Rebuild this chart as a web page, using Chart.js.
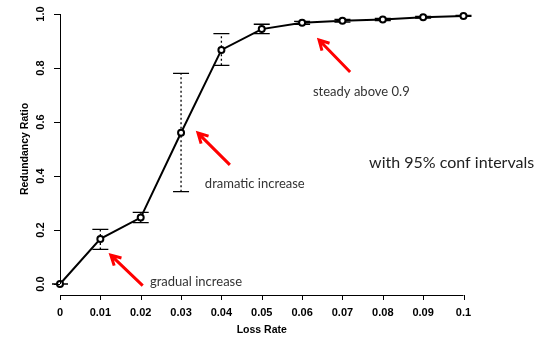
<!DOCTYPE html>
<html>
<head>
<meta charset="utf-8">
<script src="https://cdn.jsdelivr.net/npm/chart.js@4"></script>
<style>
  html, body { margin: 0; padding: 0; background: #fff; }
  #wrap { width: 540px; height: 337px; position: relative; }
</style>
</head>
<body>
<div id="wrap"><canvas id="chart"></canvas></div>
<script>
// loss rate vs redundancy ratio, mean with 95% confidence interval
const lossRate = [0, 0.01, 0.02, 0.03, 0.04, 0.05, 0.06, 0.07, 0.08, 0.09, 0.1];
const ratio    = [0.0, 0.167, 0.246, 0.560, 0.867, 0.944, 0.968, 0.975, 0.980, 0.988, 0.993];
const ciLow    = [0.0, 0.128, 0.227, 0.342, 0.810, 0.927, 0.962, 0.970, 0.976, 0.985, 0.991];
const ciHigh   = [0.0, 0.202, 0.265, 0.780, 0.927, 0.962, 0.973, 0.980, 0.984, 0.991, 0.995];

const xTicks = [0, 0.01, 0.02, 0.03, 0.04, 0.05, 0.06, 0.07, 0.08, 0.09, 0.1];
const xTickLabels = ['0', '0.01', '0.02', '0.03', '0.04', '0.05', '0.06', '0.07', '0.08', '0.09', '0.1'];
const yTicks = [0, 0.2, 0.4, 0.6, 0.8, 1.0];
const yTickLabels = ['0.0', '0.2', '0.4', '0.6', '0.8', '1.0'];

// callouts: arrow from tail to head, text anchored left/middle (data coordinates)
const notes = [
    {text: 'gradual increase', tx: 0.0223, ty: 0.007, tail: [0.0205, -0.006], head: [0.0126, 0.107]},
    {text: 'dramatic increase', tx: 0.0359, ty: 0.370, tail: [0.0421, 0.441], head: [0.0342, 0.559]},
    {text: 'steady above 0.9', tx: 0.0627, ty: 0.711, tail: [0.0719, 0.785], head: [0.0642, 0.904]}
];
const sideNote = {text: 'with 95% conf intervals', tx: 0.0766, ty: 0.448};

const axisFont = 'bold 11px "Liberation Sans", Arial, sans-serif';
const titleFont = 'bold 10.5px "Liberation Sans", Arial, sans-serif';
const noteFont = '"Lato", "Open Sans", sans-serif';

const rStyle = {
    id: 'rStyle',
    beforeDatasetsDraw(chart) {
        const ctx = chart.ctx;
        const xs = chart.scales.x, ys = chart.scales.y;
        ctx.save();
        // error bars: dotted stem, solid caps
        for (let i = 0; i < lossRate.length; i++) {
            const px = xs.getPixelForValue(lossRate[i]);
            const lo = ys.getPixelForValue(ciLow[i]);
            const hi = ys.getPixelForValue(ciHigh[i]);
            ctx.strokeStyle = '#000';
            ctx.lineWidth = 1.3;
            ctx.setLineDash([2, 2.5]);
            ctx.beginPath();
            ctx.moveTo(px, lo);
            ctx.lineTo(px, hi);
            ctx.stroke();
            ctx.setLineDash([]);
            ctx.beginPath();
            ctx.moveTo(px - 8, lo); ctx.lineTo(px + 8, lo);
            ctx.moveTo(px - 8, hi); ctx.lineTo(px + 8, hi);
            ctx.stroke();
        }
        ctx.restore();
    },
    afterDraw(chart) {
        const ctx = chart.ctx;
        const xs = chart.scales.x, ys = chart.scales.y;
        const left = xs.getPixelForValue(xTicks[0]);
        const right = xs.getPixelForValue(xTicks[xTicks.length - 1]);
        const top = ys.getPixelForValue(yTicks[yTicks.length - 1]);
        const bottom = ys.getPixelForValue(yTicks[0]);
        const axisY = bottom + 11;
        const axisX = left;
        ctx.save();
        ctx.strokeStyle = '#000';
        ctx.lineWidth = 1;

        // x axis
        ctx.beginPath();
        ctx.moveTo(left, axisY + 0.5);
        ctx.lineTo(right, axisY + 0.5);
        xTicks.forEach(v => {
            const px = Math.round(xs.getPixelForValue(v)) + 0.5;
            ctx.moveTo(px, axisY);
            ctx.lineTo(px, axisY + 5);
        });
        ctx.stroke();
        ctx.fillStyle = '#000';
        ctx.font = axisFont;
        ctx.textAlign = 'center';
        ctx.textBaseline = 'middle';
        xTicks.forEach((v, i) => {
            ctx.fillText(xTickLabels[i], xs.getPixelForValue(v), axisY + 18);
        });
        ctx.font = titleFont;
        ctx.fillText('Loss Rate', (left + right) / 2, axisY + 35);

        // y axis
        ctx.beginPath();
        ctx.moveTo(axisX + 0.5, top);
        ctx.lineTo(axisX + 0.5, bottom);
        yTicks.forEach(v => {
            const py = Math.round(ys.getPixelForValue(v)) + 0.5;
            ctx.moveTo(axisX, py);
            ctx.lineTo(axisX - 6, py);
        });
        ctx.stroke();
        ctx.font = axisFont;
        yTicks.forEach((v, i) => {
            ctx.save();
            ctx.translate(axisX - 19, ys.getPixelForValue(v));
            ctx.rotate(-Math.PI / 2);
            ctx.fillText(yTickLabels[i], 0, 0);
            ctx.restore();
        });
        ctx.save();
        ctx.font = titleFont;
        ctx.translate(axisX - 35, (top + bottom) / 2);
        ctx.rotate(-Math.PI / 2);
        ctx.fillText('Redundancy Ratio', 0, 0);
        ctx.restore();

        // red arrows with callout text
        notes.forEach(n => {
            const x0 = xs.getPixelForValue(n.tail[0]), y0 = ys.getPixelForValue(n.tail[1]);
            const x1 = xs.getPixelForValue(n.head[0]), y1 = ys.getPixelForValue(n.head[1]);
            const ang = Math.atan2(y1 - y0, x1 - x0);
            ctx.strokeStyle = '#ff0000';
            ctx.lineWidth = 3;
            ctx.lineCap = 'butt';
            ctx.beginPath();
            ctx.moveTo(x0, y0);
            ctx.lineTo(x1, y1);
            ctx.moveTo(x1 + 11 * Math.cos(ang + Math.PI - 0.5), y1 + 11 * Math.sin(ang + Math.PI - 0.5));
            ctx.lineTo(x1, y1);
            ctx.lineTo(x1 + 11 * Math.cos(ang + Math.PI + 0.5), y1 + 11 * Math.sin(ang + Math.PI + 0.5));
            ctx.stroke();
            ctx.fillStyle = '#333';
            ctx.font = '13px ' + noteFont;
            ctx.textAlign = 'left';
            ctx.fillText(n.text, xs.getPixelForValue(n.tx), ys.getPixelForValue(n.ty));
        });
        ctx.fillStyle = '#222';
        ctx.font = '16px ' + noteFont;
        ctx.textAlign = 'left';
        ctx.fillText(sideNote.text, xs.getPixelForValue(sideNote.tx), ys.getPixelForValue(sideNote.ty));
        ctx.restore();
    }
};

new Chart(document.getElementById('chart').getContext('2d'), {
    type: 'line',
    data: {
        datasets: [{
            label: 'Redundancy Ratio',
            data: lossRate.map((x, i) => ({x: x, y: ratio[i]})),
            borderColor: '#000',
            borderWidth: 2,
            pointRadius: 3,
            pointBorderWidth: 2,
            pointBackgroundColor: '#fff',
            pointBorderColor: '#000',
            tension: 0,
            clip: false
        }]
    },
    options: {
        responsive: true,
        maintainAspectRatio: false,
        animation: false,
        layout: {padding: {left: 60, right: 76.5, top: 14, bottom: 53}},
        plugins: {legend: {display: false}, tooltip: {enabled: false}},
        scales: {
            x: {type: 'linear', min: 0, max: 0.1, display: false},
            y: {type: 'linear', min: 0, max: 1, display: false}
        }
    },
    plugins: [rStyle]
});
</script>
</body>
</html>
